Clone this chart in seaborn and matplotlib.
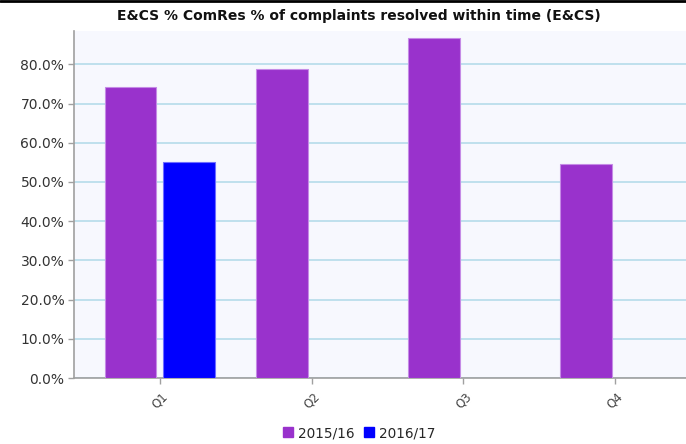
import matplotlib
matplotlib.use("Agg")
import matplotlib.pyplot as plt
import matplotlib.ticker as mticker
from matplotlib.patches import Patch
import pandas as pd
import seaborn as sns

quarters = ["Q1", "Q2", "Q3", "Q4"]
years = ["2015/16", "2016/17"]
values_2015 = [74.2, 78.8, 86.6, 54.5]
values_2016 = [55.2, None, None, None]
colors = {"2015/16": "#9932CC", "2016/17": "#0000FF"}
edges = {"2015/16": "#C58BE6", "2016/17": "#6E6EFF"}
title = "E&CS % ComRes % of complaints resolved within time (E&CS)"

rows = []
for q, v in zip(quarters, values_2015):
    rows.append({"Quarter": q, "Year": "2015/16", "Value": v})
for q, v in zip(quarters, values_2016):
    if v is not None:
        rows.append({"Quarter": q, "Year": "2016/17", "Value": v})
df = pd.DataFrame(rows)

sns.set_theme(style="white")
plt.rcParams["font.family"] = ["DejaVu Sans"]

fig = plt.figure(figsize=(6.86, 4.44), dpi=100)
ax = fig.add_axes([74 / 686, 1 - 378 / 444, 1 - 74 / 686, (378 - 31) / 444])
ax.set_facecolor("#F7F8FE")

sns.barplot(data=df, x="Quarter", y="Value", hue="Year", order=quarters,
            hue_order=years, palette=colors, saturation=1, width=0.776,
            gap=0.12, ax=ax, legend=False, zorder=3)

for cont, yr in zip(ax.containers, years):
    for bar in cont:
        bar.set_edgecolor(edges[yr])
        bar.set_linewidth(0.8)

ax.set_ylim(0, 88.5)
ax.set_xlim(-0.566, 3.467)
ax.yaxis.set_major_locator(mticker.MultipleLocator(10))
ax.yaxis.set_major_formatter(mticker.FuncFormatter(lambda v, p: f"{v:.1f}%"))
ax.grid(axis="y", color="#B5DCEA", linewidth=1.2, zorder=0)
ax.set_axisbelow(True)

for s in ["top", "right"]:
    ax.spines[s].set_visible(False)
for s in ["left", "bottom"]:
    ax.spines[s].set_color("#A0A0A0")
    ax.spines[s].set_linewidth(1.2)

ax.tick_params(axis="y", which="major", length=4, width=1, color="#A0A0A0",
               labelsize=10, labelcolor="#333333", left=True, pad=3)
ax.tick_params(axis="x", which="major", length=4, width=1, color="#A0A0A0",
               labelsize=8.5, labelcolor="#444444", bottom=True, pad=5)
for lbl in ax.get_xticklabels():
    lbl.set_rotation(45)
    lbl.set_ha("center")
ax.set_xlabel("")
ax.set_ylabel("")

fig.text(359 / 686, 1 - 16 / 444, title, ha="center", va="center",
         fontsize=10, fontweight="bold", color="#111111")

handles = [Patch(facecolor=colors[y], edgecolor=colors[y], label=y) for y in years]
fig.legend(handles=handles, loc="center", bbox_to_anchor=(359 / 686, 1 - 433 / 444),
           ncol=2, frameon=False, fontsize=9.8, handlelength=0.75,
           handleheight=0.75, handletextpad=0.35, columnspacing=0.7)

fig.add_artist(plt.Line2D([0, 1], [1 - 1 / 444, 1 - 1 / 444],
                          transform=fig.transFigure, color="black", linewidth=2))

fig.savefig("out.png", dpi=100)
